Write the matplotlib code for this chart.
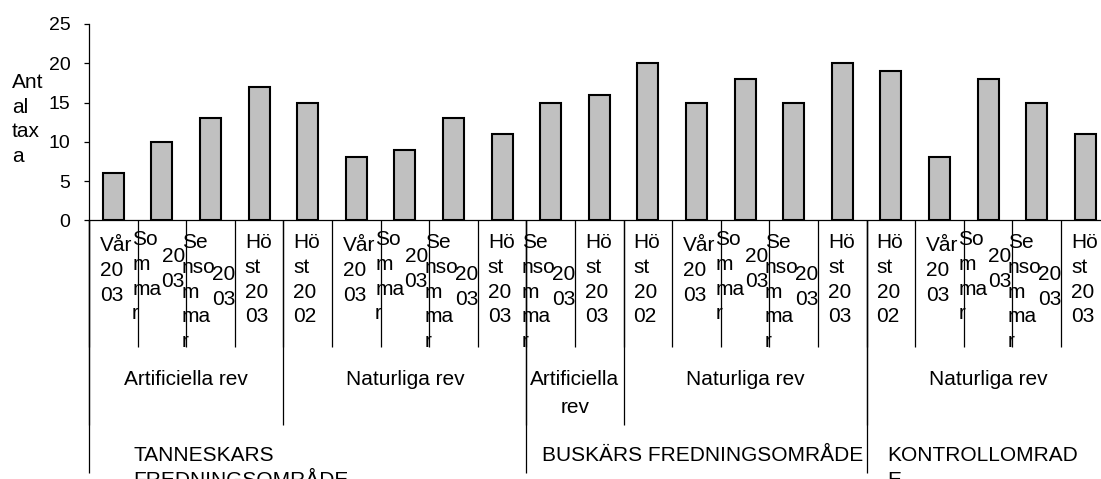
#!/usr/bin/env python

import matplotlib.pyplot as plt
import matplotlib.transforms as mtransforms

plt.rcParams['font.family'] = ['Liberation Sans', 'DejaVu Sans']

omrade = (['TANNESKARS FREDNINGSOMRÅDE'] * 9 + ['BUSKÄRS FREDNINGSOMRÅDE'] * 7 +
          ['KONTROLLOMRADE'] * 5)
habitat = (['Artificiella rev'] * 4 + ['Naturliga rev'] * 5 +
           ['Artificiella rev'] * 2 + ['Naturliga rev'] * 5 +
           ['Naturliga rev'] * 5)
period = ['Vår 2003', 'Sommar 2003', 'Sensommar 2003', 'Höst 2003',
          'Höst 2002', 'Vår 2003', 'Sommar 2003', 'Sensommar 2003', 'Höst 2003',
          'Sensommar 2003', 'Höst 2003',
          'Höst 2002', 'Vår 2003', 'Sommar 2003', 'Sensommar 2003', 'Höst 2003',
          'Höst 2002', 'Vår 2003', 'Sommar 2003', 'Sensommar 2003', 'Höst 2003']
antal_taxa = [6, 10, 13, 17, 15, 8, 9, 13, 11, 15, 16, 20, 15, 18, 15, 20,
              19, 8, 18, 15, 11]

# the way the narrow category labels were wrapped in the original
period_lines = {
    'Vår 2003': ['Vår\n20\n03'],
    'Sommar 2003': ['So\nm\nma\nr', '20\n03'],
    'Sensommar 2003': ['Se\nnso\nm\nma\nr', '20\n03'],
    'Höst 2003': ['Hö\nst\n20\n03'],
    'Höst 2002': ['Hö\nst\n20\n02'],
}
omrade_lines = {
    'TANNESKARS FREDNINGSOMRÅDE': 'TANNESKARS\nFREDNINGSOMRÅDE',
    'BUSKÄRS FREDNINGSOMRÅDE': 'BUSKÄRS FREDNINGSOMRÅDE',
    'KONTROLLOMRADE': 'KONTROLLOMRAD\nE',
}

# layout (pixels)
W, H, dpi = 1101, 479, 100
ax_left, ax_top, ax_bottom, ax_w = 89, 24, 220.3, 1020.6
period_pos = {  # (dx from slot edge, dy below axis) per text piece
    'Vår 2003': [(11, 16)],
    'Sommar 2003': [(-5.5, 10), (24, 27)],
    'Sensommar 2003': [(-4.5, 13), (26, 45)],
    'Höst 2003': [(10, 13)],
    'Höst 2002': [(10, 13)],
}
omrade_dx = {'TANNESKARS FREDNINGSOMRÅDE': 44,
             'BUSKÄRS FREDNINGSOMRÅDE': 15.5,
             'KONTROLLOMRADE': 21}

fig = plt.figure(figsize=(W / dpi, H / dpi), dpi=dpi)
ax = fig.add_axes([ax_left / W, 1 - ax_bottom / H, ax_w / W, (ax_bottom - ax_top) / H])
ah = ax_bottom - ax_top

x = list(range(len(antal_taxa)))
ax.bar(x, antal_taxa, width=0.43, color='#c0c0c0', edgecolor='black', linewidth=1.5)
ax.set_xlim(-0.5, len(x) - 0.5)
ax.set_ylim(0, 25)
ax.set_yticks(range(0, 26, 5))
ax.set_xticks([])
for s in ['top', 'right']:
    ax.spines[s].set_visible(False)
ax.spines['left'].set_linewidth(0.9)
ax.spines['bottom'].set_linewidth(0.9)
ax.tick_params(axis='y', direction='out', length=3.3, width=0.9, pad=10, labelsize=14)

fig.text(12 / W, 1 - 73 / H, 'Ant\nal\ntax\na', ha='left', va='top',
         fontsize=15, linespacing=1.38)

xt = ax.get_xaxis_transform()


def off(dx, dy):
    return xt + mtransforms.ScaledTranslation(dx / dpi, -dy / dpi, fig.dpi_scale_trans)


def sep(xb, depth):
    ax.plot([xb, xb], [0, -depth / ah], transform=xt, clip_on=False,
            color='black', lw=0.9, solid_capstyle='butt')


def runs(keys):
    out = []
    start = 0
    for i in range(1, len(keys) + 1):
        if i == len(keys) or keys[i] != keys[start]:
            out.append((start, i - 1, keys[start]))
            start = i
    return out


# level 1: periods
for i, p in enumerate(period):
    sep(i - 0.5, 127)
    for txt, (dx, dy) in zip(period_lines[p], period_pos[p]):
        ax.text(i - 0.5, 0, txt, transform=off(dx, dy), ha='left', va='top',
                fontsize=15, linespacing=1.38)
sep(len(x) - 0.5, 127)

# level 2: habitat
for a, b, (o, h) in runs(list(zip(omrade, habitat))):
    sep(a - 0.5, 205)
    label = h.replace(' ', '\n') if b - a < 2 else h
    ax.text((a + b) / 2, 0, label, transform=off(0, 150), ha='center', va='top',
            fontsize=15, linespacing=1.58)

# level 3: area
for a, b, o in runs(omrade):
    sep(a - 0.5, 253)
    ax.text(a - 0.5, 0, omrade_lines[o], transform=off(omrade_dx[o], 226),
            ha='left', va='top', fontsize=15, linespacing=1.38)
sep(len(x) - 0.5, 253)

plt.savefig('out.png', dpi=dpi)
